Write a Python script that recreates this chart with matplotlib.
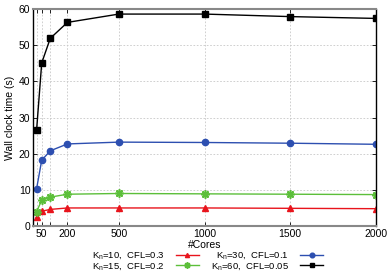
import matplotlib
matplotlib.use("Agg")
import matplotlib.pyplot as plt

plt.rcParams['font.family'] = ['Liberation Sans', 'DejaVu Sans']
plt.rcParams['mathtext.fontset'] = 'custom'
plt.rcParams['mathtext.rm'] = 'Liberation Sans'
plt.rcParams['mathtext.it'] = 'Liberation Sans'

cores = [20, 50, 100, 200, 500, 1000, 1500, 2000]
t_kn10 = [2.4, 4.1, 4.6, 5.0, 5.0, 5.0, 4.9, 4.8]
t_kn15 = [4.0, 7.1, 8.0, 8.8, 9.0, 8.9, 8.8, 8.7]
t_kn30 = [10.3, 18.2, 20.8, 22.7, 23.2, 23.1, 22.9, 22.6]
t_kn60 = [26.5, 45.1, 51.9, 56.3, 58.6, 58.6, 57.9, 57.4]
tick_labels = ['', '50', '', '200', '500', '1000', '1500', '2000']

fig = plt.figure(figsize=(3.9, 2.73), dpi=100)
ax = fig.add_axes([0.085, 0.172, 0.879, 0.795])

l1, = ax.plot(cores, t_kn10, color='#e8141c', marker='^', ms=4, lw=1)
l2, = ax.plot(cores, t_kn15, color='#5cbf3a', marker=(8, 2, 0), ms=6, mew=1.2, lw=1)
l3, = ax.plot(cores, t_kn30, color='#2d4fb0', marker='o', ms=4.5, lw=1)
l4, = ax.plot(cores, t_kn60, color='black', marker='s', ms=4.5, lw=1)

ax.set_xlim(0, 2000)
ax.set_ylim(0, 60)
ax.set_xticks(cores)
ax.set_xticklabels(tick_labels)
ax.set_yticks(range(0, 61, 10))
ax.tick_params(direction='in', top=True, right=True, labelsize=7.5, length=3, width=0.6, pad=2)
ax.grid(True, ls=(0, (2, 2)), color='#c8c8c8', lw=0.6)

for side in ['top', 'bottom']:
    ax.spines[side].set_color('#888888')
    ax.spines[side].set_linewidth(1.5)
for side in ['left', 'right']:
    ax.spines[side].set_color('black')
    ax.spines[side].set_linewidth(1.0)

ax.set_xlabel('#Cores', fontsize=7.5, labelpad=1)
ax.set_ylabel('Wall clock time (s)', fontsize=7.5, labelpad=3)

leg = fig.legend([l1, l2, l3, l4],
                 ['K$_n$=10,  CFL=0.3', 'K$_n$=15,  CFL=0.2',
                  'K$_n$=30,  CFL=0.1', 'K$_n$=60,  CFL=0.05'],
                 ncol=2, markerfirst=False, frameon=False, fontsize=6.8,
                 loc='center', bbox_to_anchor=(0.532, 0.044),
                 handlelength=2.4, columnspacing=1.3, labelspacing=-0.08,
                 handletextpad=1.2, borderpad=0, markerscale=0.75)

fig.savefig('out.png', dpi=100)
